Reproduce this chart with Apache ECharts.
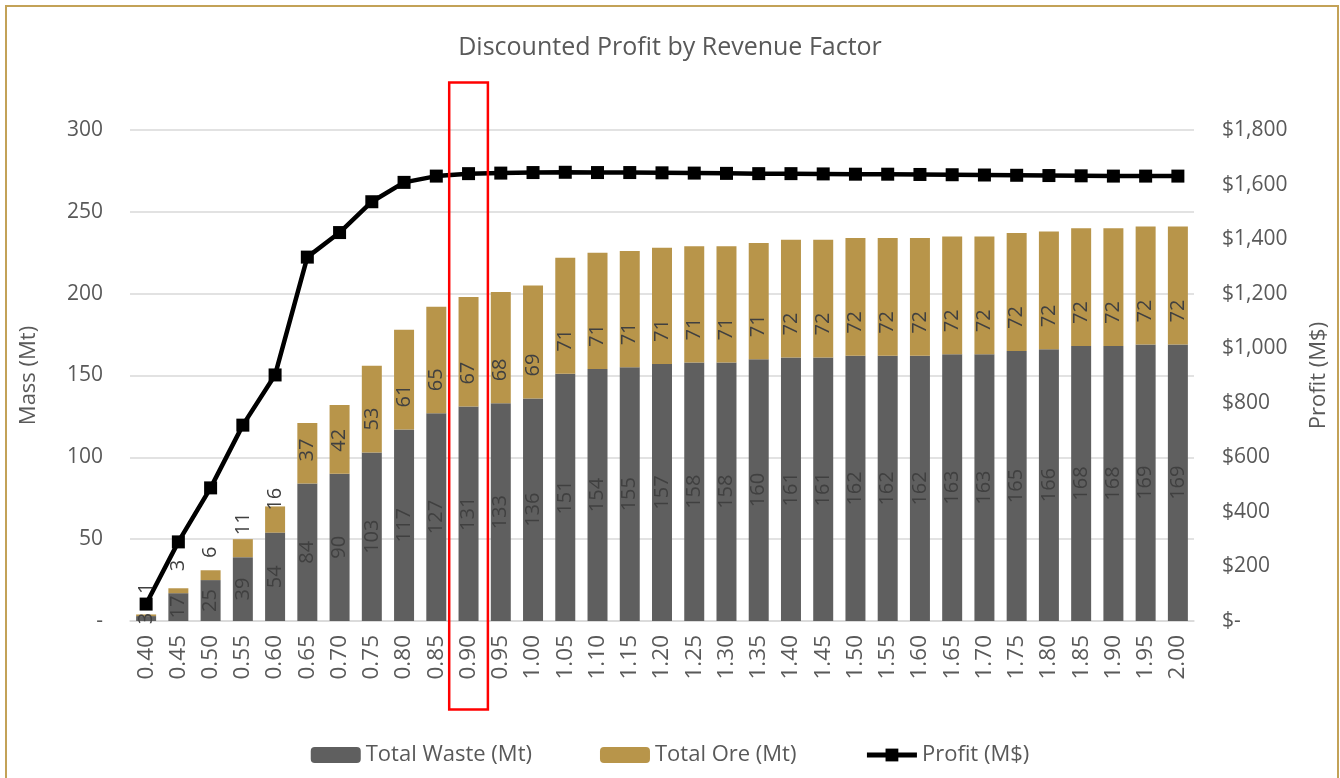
<!DOCTYPE html>
<html>
<head>
<meta charset="utf-8">
<script src="https://cdn.jsdelivr.net/npm/echarts@6/dist/echarts.min.js"></script>
<style>
html,body{margin:0;padding:0;background:#fff;}
#chart{width:1340px;height:778px;}
#frame{position:absolute;left:5px;top:5px;width:1330px;height:790px;border:2px solid #c3a257;pointer-events:none;}
</style>
</head>
<body>
<div id="chart"></div>
<div id="frame"></div>
<script>
const categories = ['0.40','0.45','0.50','0.55','0.60','0.65','0.70','0.75','0.80','0.85','0.90','0.95','1.00','1.05','1.10','1.15','1.20','1.25','1.30','1.35','1.40','1.45','1.50','1.55','1.60','1.65','1.70','1.75','1.80','1.85','1.90','1.95','2.00'];
const totalWaste = [3,17,25,39,54,84,90,103,117,127,131,133,136,151,154,155,157,158,158,160,161,161,162,162,162,163,163,165,166,168,168,169,169];
const totalOre = [1,3,6,11,16,37,42,53,61,65,67,68,69,71,71,71,71,71,71,71,72,72,72,72,72,72,72,72,72,72,72,72,72];
const profit = [62,290,488,718,902,1334,1424,1537,1608,1631,1640,1642,1644,1645,1644,1644,1643,1642,1641,1640,1640,1639,1638,1638,1637,1636,1635,1634,1633,1632,1631,1631,1631];
const massTicks = [0,50,100,150,200,250,300];
const profitTicks = [0,200,400,600,800,1000,1200,1400,1600,1800];
const highlighted = ['0.90'];

const FONT = 'Open Sans';
const TXT = '#595959';
const chart = echarts.init(document.getElementById('chart'), null, {renderer:'canvas'});

function money(v){ return v === 0 ? '$-' : '$' + v.toLocaleString('en-US'); }

chart.setOption({
  animation:false,
  backgroundColor:'#fff',
  textStyle:{fontFamily:FONT},
  title:{text:'Discounted Profit by Revenue Factor',left:'center',top:30,
    textStyle:{fontFamily:FONT,fontSize:25,fontWeight:'normal',color:TXT}},
  grid:{left:130,right:146,top:130,bottom:157,containLabel:false},
  legend:{bottom:7,left:'center',itemWidth:50,itemHeight:16,itemGap:68,
    lineStyle:{width:5},
    textStyle:{fontFamily:FONT,fontSize:22,color:TXT},
    data:['Total Waste (Mt)','Total Ore (Mt)','Profit (M$)']},
  xAxis:{type:'category',data:categories,
    axisLine:{lineStyle:{color:'#d9d9d9',width:1.5}},
    axisTick:{show:false},
    axisLabel:{rotate:90,color:TXT,fontSize:22.5,margin:14,fontFamily:FONT}},
  yAxis:[
    {type:'value',min:massTicks[0],max:massTicks[massTicks.length-1],interval:50,
     name:'Mass (Mt)',nameLocation:'middle',nameRotate:90,nameGap:90,
     nameTextStyle:{color:TXT,fontSize:22,fontFamily:FONT},
     axisLine:{show:false},axisTick:{show:false},
     axisLabel:{color:TXT,fontSize:21,margin:27,fontFamily:FONT,formatter:v=>v===0?'-':String(v)},
     splitLine:{lineStyle:{color:'#d9d9d9',width:1.5}}},
    {type:'value',min:profitTicks[0],max:profitTicks[profitTicks.length-1],interval:200,
     name:'Profit (M$)',nameLocation:'middle',nameRotate:90,nameGap:114,
     nameTextStyle:{color:TXT,fontSize:22,fontFamily:FONT,verticalAlign:'top'},
     axisLine:{show:false},axisTick:{show:false},
     axisLabel:{color:TXT,fontSize:21,margin:28,fontFamily:FONT,formatter:money},
     splitLine:{show:false}}
  ],
  series:[
    {name:'Total Waste (Mt)',type:'bar',stack:'mass',data:totalWaste,barWidth:'62%',
     itemStyle:{color:'#5f5f5f'},
     label:{show:true,position:'inside',rotate:90,color:'#404040',fontSize:20,fontFamily:FONT}},
    {name:'Total Ore (Mt)',type:'bar',stack:'mass',data:totalOre,barWidth:'62%',
     itemStyle:{color:'#b8954a'},
     label:{show:true,position:'insideBottom',distance:22,rotate:90,align:'left',verticalAlign:'middle',
       color:'#404040',fontSize:20,fontFamily:FONT}},
    {name:'Profit (M$)',type:'line',yAxisIndex:1,data:profit,symbol:'rect',symbolSize:13,
     lineStyle:{color:'#000',width:4.5},itemStyle:{color:'#000'},z:5},
    {name:'highlight',type:'custom',yAxisIndex:0,z:6,silent:true,
     data:highlighted.map(c=>[categories.indexOf(c)]),
     renderItem:function(params,api){
       const idx = api.value(0);
       const top = api.coord([idx,329]);
       const bot = api.coord([idx,-54]);
       const w = api.size([1,0])[0]*1.2;
       return {type:'rect',shape:{x:top[0]-w/2,y:top[1],width:w,height:bot[1]-top[1]},
         style:{fill:'none',stroke:'#ff0000',lineWidth:2.5}};
     }}
  ]
});
</script>
</body>
</html>
